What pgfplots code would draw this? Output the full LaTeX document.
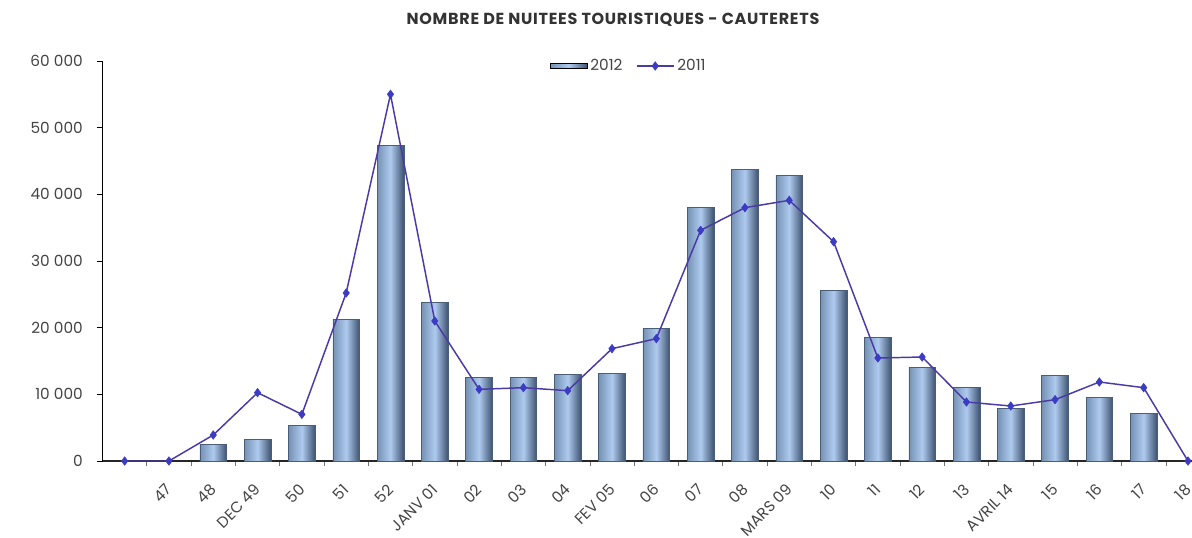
\documentclass[border=0pt]{standalone}
\usepackage{fontspec}
\setmainfont{Poppins}
\usepackage{pgfplots}
\usepackage{pgfplotstable}
\pgfplotsset{compat=1.18}
\definecolor{barL}{HTML}{7591B4}
\definecolor{barM}{HTML}{AECAEE}
\definecolor{barR}{HTML}{3E5270}
\definecolor{barE}{HTML}{4A5E7A}
\definecolor{lineC}{HTML}{4A3AA6}
\definecolor{markC}{HTML}{3B3BC4}
\definecolor{txt}{HTML}{444444}
\pgfplotstableread{
x y2012 y2011
0 0 0
1 0 0
2 2450 3900
3 3200 10250
4 5400 7000
5 21200 25200
6 47300 55000
7 23800 21000
8 12500 10750
9 12500 11000
10 13000 10550
11 13200 16850
12 19950 18350
13 38000 34600
14 43800 38000
15 42800 39100
16 25600 32900
17 18600 15450
18 14100 15600
19 11100 8850
20 7850 8250
21 12850 9200
22 9600 11850
23 7100 11000
24 0 0
}\data
\pgfplotsset{
  barlegend/.style={legend image code/.code={\path[left color=barL, right color=barR, middle color=barM] (0pt,-2pt) rectangle (28pt,2pt);}},
  linelegend/.style={legend image code/.code={\draw[##1, mark repeat=2, mark phase=2] plot coordinates {(0pt,0pt) (14pt,0pt) (28pt,0pt)};}},
}
\begin{document}
\begin{tikzpicture}
\useasboundingbox (0,0) rectangle (894pt,402.75pt);
\begin{axis}[
  at={(76.875pt,57pt)}, anchor=south west,
  scale only axis, width=817.1pt, height=300pt,
  xmin=-0.5, xmax=24.09, ymin=0, ymax=60000,
  clip=false,
  axis x line=bottom, axis y line=left, axis line style={-},
  x axis line style={line width=1.3pt, color=black!85},
  y axis line style={line width=0.6pt, color=black},
  xtick align=outside, ytick align=outside,
  xtick={0,...,24},
  xticklabels={{},47,48,DEC 49,50,51,52,JANV 01,02,03,04,FEV 05,06,07,08,MARS 09,10,11,12,13,AVRIL 14,15,16,17,18},
  major x tick style={draw=none},
  minor xtick={0.5,1.5,...,23.5},
  minor x tick style={color=black!55, line width=0.5pt},
  minor tick length=3.75pt,
  major tick length=3.75pt,
  ytick={0,10000,20000,30000,40000,50000,60000},
  y tick style={color=black, line width=0.5pt},
  scaled y ticks=false,
  /pgf/number format/1000 sep={\ },
  /pgf/number format/assume math mode=true,
  yticklabel style={font=\fontsize{11.5}{13}\selectfont, color=txt, xshift=-7.5pt},
  xticklabel style={font=\fontsize{11.5}{13}\selectfont, color=txt, xshift=-3pt, yshift=-12.5pt, rotate=45, anchor=north east, inner sep=0pt},
  title={\addfontfeatures{LetterSpace=4.5}NOMBRE DE NUITEES TOURISTIQUES - CAUTERETS},
  title style={at={(axis description cs:0.4686,1.0825)}, anchor=center, font=\fontsize{12}{14}\selectfont\bfseries, color=black!80},
  legend style={at={(axis description cs:0.4833,0.9875)}, anchor=center, draw=none, fill=none, font=\fontsize{11.5}{13}\selectfont, text=txt, legend columns=2, /tikz/every even column/.append style={column sep=8pt}},
]
\addlegendimage{barlegend}
\addlegendentry{2012}
\pgfplotsinvokeforeach{2,...,23}{
  \addplot[ybar, bar width=20pt, draw=barE, line width=0.4pt, left color=barL, right color=barR, middle color=barM, forget plot, restrict x to domain=#1:#1]
    table[x=x, y=y2012] {\data};
}
\addplot[color=lineC, line width=1.1pt, mark=diamond*, mark size=3.2pt, mark options={fill=markC, draw=markC, line width=0.4pt}, linelegend]
  table[x=x, y=y2011] {\data};
\addlegendentry{2011}
\end{axis}
\end{tikzpicture}
\end{document}
